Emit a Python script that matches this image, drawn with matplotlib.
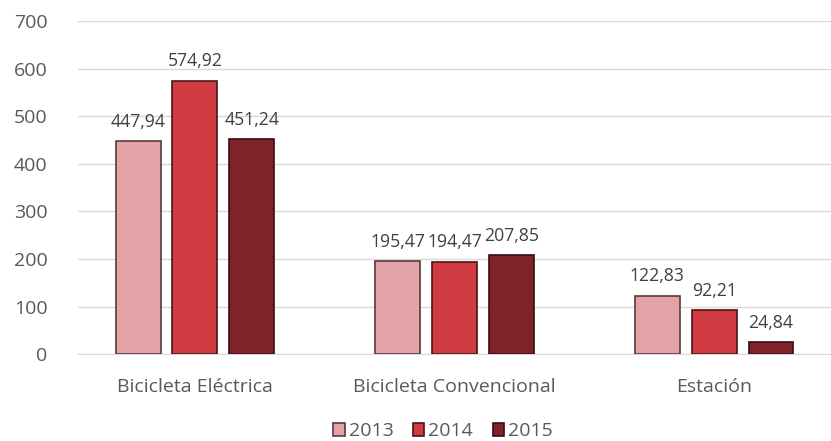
import matplotlib
matplotlib.use("Agg")
import matplotlib.pyplot as plt
import numpy as np

categories = ["Bicicleta Eléctrica", "Bicicleta Convencional", "Estación"]
years = ["2013", "2014", "2015"]
values_2013 = [447.94, 195.47, 122.83]
values_2014 = [574.92, 194.47, 92.21]
values_2015 = [451.24, 207.85, 24.84]
yticks = [0, 100, 200, 300, 400, 500, 600, 700]

series = [values_2013, values_2014, values_2015]
colors = ["#E3A2A6", "#D13C42", "#7E2329"]
edges = ["#5a3a3c", "#4a1518", "#3a0c0f"]

plt.rcParams['font.family'] = ['Open Sans', 'DejaVu Sans']

fig = plt.figure(figsize=(8.31, 4.41), dpi=100)
ax = fig.add_axes([0.094, 0.197, 0.906, 0.755])

x = np.arange(len(categories))
width = 0.173
offset = 0.219
for i, (vals, c, ec, yr) in enumerate(zip(series, colors, edges, years)):
    pos = x + (i - 1) * offset
    bars = ax.bar(pos, vals, width, color=c, edgecolor=ec, linewidth=1.2, label=yr, zorder=3)
    for b, v in zip(bars, vals):
        ax.text(b.get_x() + b.get_width() / 2, v + 22, f"{v:.2f}".replace(".", ","),
                ha="center", va="bottom", fontsize=12.7, color="#404040", zorder=4)

ax.set_xlim(-0.45, 2.45)
ax.set_ylim(0, 700)
ax.set_yticks(yticks)
ax.set_yticklabels([str(t) for t in yticks], fontsize=14, color="#595959")
ax.set_xticks(x)
ax.set_xticklabels(categories, fontsize=14, color="#595959")
ax.tick_params(axis="both", length=0)
ax.tick_params(axis="y", pad=22)
ax.tick_params(axis="x", pad=17)
ax.grid(axis="y", color="#D9D9D9", linewidth=1, zorder=0)
for s in ["top", "right", "left"]:
    ax.spines[s].set_visible(False)
ax.spines["bottom"].set_color("#D9D9D9")

fig.legend(loc="center", bbox_to_anchor=(0.533, 0.022), ncol=3, frameon=False,
           fontsize=14, handlelength=0.6, handleheight=0.6, handletextpad=0.2,
           columnspacing=1.0, labelcolor="#595959", borderpad=0)

fig.savefig("out.png", dpi=100)
